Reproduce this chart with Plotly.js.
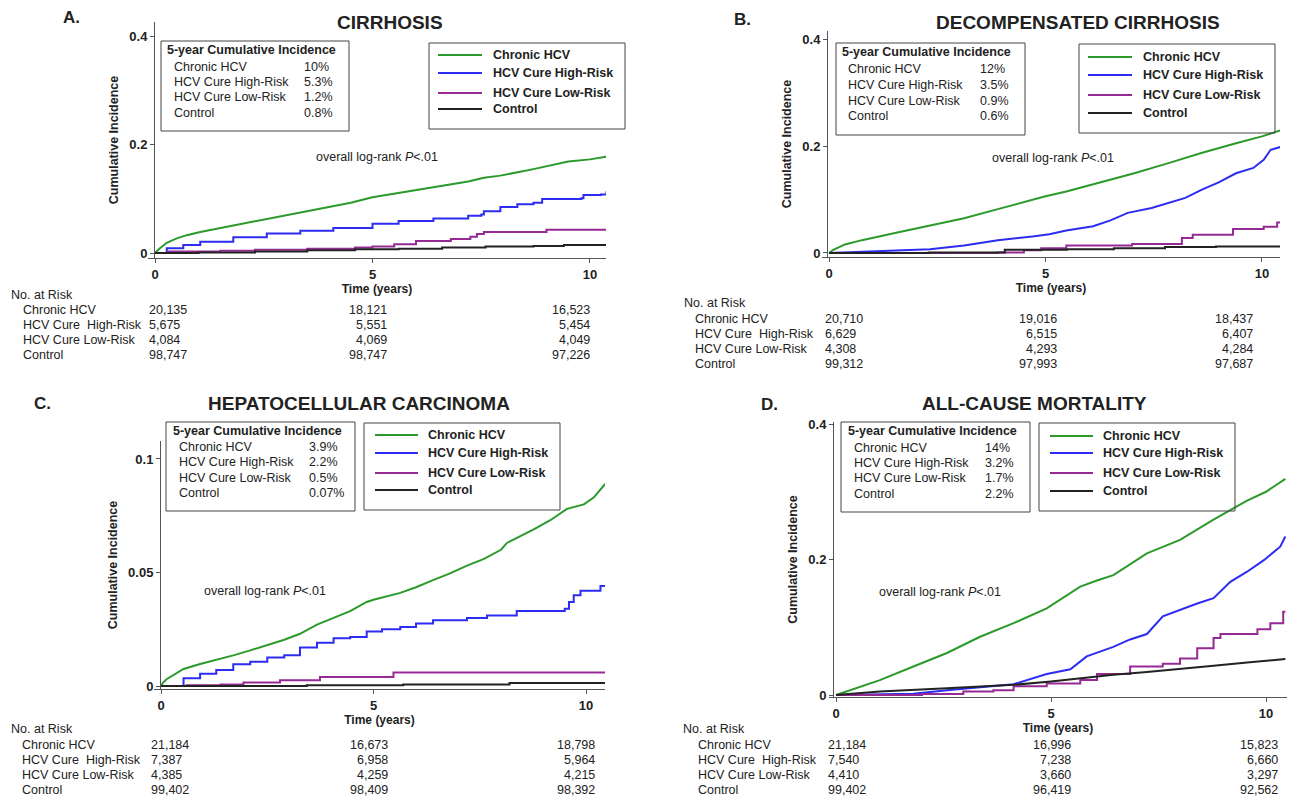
<!DOCTYPE html>
<html><head><meta charset="utf-8">
<script src="https://cdn.plot.ly/plotly-3.0.1.min.js"></script>
<style>html,body{margin:0;padding:0;background:#fff;overflow:hidden}#chart{width:1293px;height:797px}</style>
</head><body><div id="chart"></div>
<script>
// ---------------- DATA ----------------
const seriesNames = ['Chronic HCV', 'HCV Cure High-Risk', 'HCV Cure Low-Risk', 'Control'];
const riskRowLabels = ['Chronic HCV', 'HCV Cure\u00a0 High-Risk', 'HCV Cure Low-Risk', 'Control'];
const xTickVals = [0, 5, 10];
const xTickText = ['0', '5', '10'];
const panelTitles = ['CIRRHOSIS', 'DECOMPENSATED CIRRHOSIS', 'HEPATOCELLULAR CARCINOMA', 'ALL-CAUSE MORTALITY'];
const panelLetters = ['A.', 'B.', 'C.', 'D.'];
const yTickValsAB = [0, 0.2, 0.4];
const yTickTextAB = ['0', '0.2', '0.4'];
const yTickValsC = [0, 0.05, 0.1];
const yTickTextC = ['0', '0.05', '0.1'];

// 5-year cumulative incidence (inset boxes)
const incA = ['10%', '5.3%', '1.2%', '0.8%'];
const incB = ['12%', '3.5%', '0.9%', '0.6%'];
const incC = ['3.9%', '2.2%', '0.5%', '0.07%'];
const incD = ['14%', '3.2%', '1.7%', '2.2%'];

// Number at risk (rows: Chronic, High-Risk, Low-Risk, Control) at years 0, 5, 10
const riskA0 = [20135, 5675, 4084, 98747], riskA5 = [18121, 5551, 4069, 98747], riskA10 = [16523, 5454, 4049, 97226];
const riskB0 = [20710, 6629, 4308, 99312], riskB5 = [19016, 6515, 4293, 97993], riskB10 = [18437, 6407, 4284, 97687];
const riskC0 = [21184, 7387, 4385, 99402], riskC5 = [16673, 6958, 4259, 98409], riskC10 = [18798, 5964, 4215, 98392];
const riskD0 = [21184, 7540, 4410, 99402], riskD5 = [16996, 7238, 3660, 96419], riskD10 = [15823, 6660, 3297, 92562];

// Panel A: cirrhosis
const aChronicT = [0, 0.1, 0.27, 0.5, 0.73, 1.04, 1.8, 2.57, 3.34, 4.1, 4.5, 5.0, 5.6, 6.4, 7.2, 7.56, 7.94, 8.7, 9.5, 10.0, 10.38];
const aChronicV = [0, 0.008, 0.019, 0.027, 0.033, 0.039, 0.051, 0.063, 0.076, 0.088, 0.093, 0.103, 0.111, 0.122, 0.132, 0.139, 0.143, 0.155, 0.169, 0.173, 0.178];
const aHighT = [0, 0.27, 0.65, 1.04, 1.8, 2.57, 3.34, 4.1, 5.0, 5.6, 6.4, 7.2, 7.5, 7.56, 7.94, 8.33, 8.7, 8.9, 9.8, 9.85, 10.25, 10.38];
const aHighV = [0, 0.009, 0.015, 0.021, 0.029, 0.036, 0.041, 0.046, 0.054, 0.059, 0.064, 0.069, 0.071, 0.077, 0.085, 0.090, 0.093, 0.100, 0.101, 0.107, 0.108, 0.114];
const aLowT = [0, 0.3, 1.5, 2.3, 3.5, 4.6, 5.0, 5.5, 6.0, 6.8, 7.25, 7.4, 7.56, 9.0, 10.38];
const aLowV = [0, 0.003, 0.004, 0.006, 0.008, 0.010, 0.012, 0.016, 0.022, 0.026, 0.030, 0.035, 0.039, 0.043, 0.043];
const aCtrlT = [0, 1.0, 2.3, 3.5, 4.6, 5.6, 6.6, 7.6, 8.7, 9.4, 10.38];
const aCtrlV = [0, 0.001, 0.003, 0.005, 0.007, 0.008, 0.010, 0.012, 0.013, 0.015, 0.016];

// Panel B: decompensated cirrhosis
const bChronicT = [0, 0.1, 0.37, 0.76, 1.55, 2.33, 3.12, 3.9, 5.0, 5.48, 6.27, 7.05, 7.84, 8.6, 9.4, 10.0, 10.42];
const bChronicV = [0, 0.006, 0.016, 0.024, 0.038, 0.051, 0.065, 0.082, 0.106, 0.115, 0.132, 0.149, 0.168, 0.187, 0.205, 0.218, 0.229];
const bHighT = [0, 1.55, 2.33, 3.12, 3.9, 4.7, 5.09, 5.48, 6.1, 6.5, 6.9, 7.45, 7.84, 8.23, 8.6, 9.0, 9.4, 9.8, 10.04, 10.2, 10.42];
const bHighV = [0, 0.004, 0.007, 0.014, 0.024, 0.031, 0.035, 0.042, 0.050, 0.061, 0.075, 0.084, 0.093, 0.103, 0.118, 0.132, 0.149, 0.159, 0.174, 0.193, 0.198];
const bLowT = [0, 3.9, 4.5, 4.9, 5.48, 7.0, 8.15, 8.4, 9.33, 10.04, 10.35, 10.42];
const bLowV = [0, 0.001, 0.005, 0.009, 0.014, 0.017, 0.028, 0.034, 0.045, 0.049, 0.057, 0.057];
const bCtrlT = [0, 2.3, 4.06, 5.5, 6.58, 7.76, 8.94, 10.42];
const bCtrlV = [0, 0.001, 0.006, 0.007, 0.009, 0.011, 0.012, 0.014];

// Panel C: hepatocellular carcinoma
const cChronicT = [0, 0.05, 0.13, 0.53, 0.92, 1.3, 1.7, 2.1, 2.5, 2.9, 3.27, 3.67, 4.06, 4.45, 4.84, 5.0, 5.63, 6.0, 6.4, 6.8, 7.2, 7.6, 8.0, 8.14, 8.77, 9.16, 9.55, 9.95, 10.18, 10.45];
const cChronicV = [0, 0.0015, 0.003, 0.0075, 0.0097, 0.0115, 0.0135, 0.0157, 0.018, 0.0204, 0.023, 0.027, 0.030, 0.033, 0.037, 0.038, 0.041, 0.0435, 0.0466, 0.0496, 0.053, 0.056, 0.060, 0.063, 0.069, 0.073, 0.078, 0.080, 0.083, 0.089];
const cHighT = [0, 0.53, 0.92, 1.3, 1.7, 2.1, 2.5, 2.9, 3.27, 3.67, 4.06, 4.45, 4.84, 5.2, 5.63, 6.0, 6.4, 7.2, 7.67, 8.37, 9.5, 9.6, 9.71, 9.87, 10.3, 10.34, 10.45];
const cHighV = [0, 0.0034, 0.0054, 0.007, 0.0096, 0.0107, 0.0125, 0.0135, 0.017, 0.019, 0.021, 0.0216, 0.024, 0.025, 0.026, 0.0275, 0.029, 0.030, 0.031, 0.033, 0.034, 0.037, 0.040, 0.042, 0.042, 0.044, 0.044];
const cLowT = [0, 0.6, 1.4, 1.94, 2.8, 3.74, 5.47, 10.45];
const cLowV = [0, 0.0003, 0.0007, 0.0015, 0.0025, 0.004, 0.006, 0.006];
const cCtrlT = [0, 3.43, 5.7, 8.2, 10.45];
const cCtrlV = [0, 0.0003, 0.0007, 0.0013, 0.0013];

// Panel D: all-cause mortality
const dChronicT = [0, 0.64, 1.02, 1.8, 2.58, 3.35, 4.13, 4.9, 5.68, 6.07, 6.45, 7.23, 8.0, 8.78, 9.56, 10.0, 10.45];
const dChronicV = [0, 0.014, 0.022, 0.042, 0.062, 0.086, 0.106, 0.128, 0.160, 0.169, 0.177, 0.209, 0.229, 0.259, 0.287, 0.300, 0.319];
const dHighT = [0, 1.8, 2.58, 3.35, 4.13, 4.9, 5.45, 5.83, 6.45, 6.84, 7.23, 7.6, 8.0, 8.4, 8.78, 9.17, 9.56, 9.95, 10.33, 10.45];
const dHighV = [0, 0.002, 0.007, 0.011, 0.016, 0.031, 0.038, 0.057, 0.071, 0.082, 0.090, 0.116, 0.126, 0.135, 0.143, 0.167, 0.182, 0.199, 0.219, 0.234];
const dLowT = [0, 2.0, 2.96, 3.66, 4.13, 4.9, 5.68, 6.07, 6.84, 7.6, 8.0, 8.4, 8.78, 8.94, 9.8, 10.1, 10.4, 10.45];
const dLowV = [0, 0.0015, 0.005, 0.007, 0.013, 0.017, 0.022, 0.031, 0.042, 0.046, 0.054, 0.069, 0.084, 0.090, 0.097, 0.106, 0.123, 0.123];
const dCtrlT = [0, 1.02, 2.58, 4.13, 5.0, 5.68, 6.45, 7.23, 8.0, 8.78, 9.56, 10.45];
const dCtrlV = [0, 0.005, 0.010, 0.015, 0.020, 0.025, 0.030, 0.034, 0.038, 0.043, 0.048, 0.053];

// ---------------- STYLE / LAYOUT ----------------
const W = 1293, H = 797;
const FONT = 'Liberation Sans, Arial, Helvetica, sans-serif';
const TXT = '#222';
const colors = ['#2b9a2b', '#2c2cf2', '#952a95', '#222222'];
const X = p => p / W, Y = p => 1 - p / H;

const panels = [
  { key: '', series: [[aChronicT, aChronicV, 'linear'], [aHighT, aHighV, 'hv'], [aLowT, aLowV, 'hv'], [aCtrlT, aCtrlV, 'hv']],
    xd: [148, 606], yd: [22, 258], xr: [-0.161, 10.368], yr: [-0.0092, 0.4268], yPos: 154, yt: [yTickValsAB, yTickTextAB],
    title: [390, 22], letter: [71, 18], inc: incA,
    inset: { box: [161, 41, 349, 131], hx: 166, hy: 50, rx: 173, vx: 303, rows: [67, 82, 97, 113] },
    leg: { box: [429, 43, 625, 129], l0: 438, l1: 482, tx: 492, rows: [55, 73, 93, 109] },
    logrank: [377, 157],
    table: { nx: 10, ny: 295, lx: 22, c1: 148, c2: 388, c3: 591, rows: [310, 325, 340, 355], r: [riskA0, riskA5, riskA10] } },
  { key: '2', series: [[bChronicT, bChronicV, 'linear'], [bHighT, bHighV, 'linear'], [bLowT, bLowV, 'hv'], [bCtrlT, bCtrlV, 'hv']],
    xd: [822, 1280], yd: [31, 257], xr: [-0.162, 10.416], yr: [-0.0075, 0.415], yPos: 827, yt: [yTickValsAB, yTickTextAB],
    title: [1078, 23], letter: [742, 19], inc: incB,
    inset: { box: [836, 43, 1025, 135], hx: 841, hy: 52, rx: 847, vx: 979, rows: [69, 85, 101, 116] },
    leg: { box: [1079, 44, 1275, 133], l0: 1088, l1: 1132, tx: 1142, rows: [57, 75, 95, 113] },
    logrank: [1053, 158],
    table: { nx: 683, ny: 303, lx: 694, c1: 824, c2: 1058, c3: 1254, rows: [319, 334, 349, 364], r: [riskB0, riskB5, riskB10] } },
  { key: '3', series: [[cChronicT, cChronicV, 'linear'], [cHighT, cHighV, 'hv'], [cLowT, cLowV, 'hv'], [cCtrlT, cCtrlV, 'hv']],
    xd: [154, 605], yd: [441, 689], xr: [-0.165, 10.447], yr: [-0.00132, 0.1079], yPos: 160, yt: [yTickValsC, yTickTextC],
    title: [359, 403], letter: [42, 403], inc: incC,
    inset: { box: [166, 422, 355, 511], hx: 172, hy: 431, rx: 178, vx: 308, rows: [447, 462, 478, 493] },
    leg: { box: [364, 423, 560, 510], l0: 375, l1: 418, tx: 427, rows: [435, 453, 473, 490] },
    logrank: [265, 591],
    table: { nx: 10, ny: 729, lx: 21, c1: 150, c2: 389, c3: 596, rows: [745, 760, 775, 790], r: [riskC0, riskC5, riskC10] } },
  { key: '4', series: [[dChronicT, dChronicV, 'linear'], [dHighT, dHighV, 'linear'], [dLowT, dLowV, 'hv'], [dCtrlT, dCtrlV, 'linear']],
    xd: [829, 1287], yd: [422, 697], xr: [-0.163, 10.488], yr: [-0.00295, 0.403], yPos: 833, yt: [yTickValsAB, yTickTextAB],
    title: [1034, 403], letter: [769, 404], inc: incD,
    inset: { box: [841, 422, 1030, 512], hx: 847, hy: 431, rx: 853, vx: 984, rows: [448, 463, 478, 494] },
    leg: { box: [1039, 423, 1235, 511], l0: 1050, l1: 1093, tx: 1102, rows: [436, 453, 473, 491] },
    logrank: [940, 592],
    table: { nx: 682, ny: 729, lx: 697, c1: 827, c2: 1072, c3: 1279, rows: [745, 760, 775, 790], r: [riskD0, riskD5, riskD10] } }
];

const fmt = n => n.toLocaleString('en-US');
function ann(text, x, y, size, opts = {}) {
  return { text, x: X(x), y: Y(y), xref: 'paper', yref: 'paper', showarrow: false,
    xanchor: opts.xa || 'left', yanchor: 'middle', borderpad: 0,
    font: { family: FONT, size, color: opts.color || TXT, weight: opts.bold ? 'bold' : 'normal' } };
}

const traces = [], annotations = [], shapes = [];
const layout = { width: W, height: H, autosize: false, margin: { l: 0, r: 0, t: 0, b: 0 },
  paper_bgcolor: '#fff', plot_bgcolor: 'rgba(0,0,0,0)', showlegend: false, font: { family: FONT, color: TXT } };

panels.forEach((p, pi) => {
  const xa = 'x' + p.key, ya = 'y' + p.key;
  p.series.forEach((s, si) => {
    traces.push({ type: 'scatter', mode: 'lines', x: s[0], y: s[1], name: seriesNames[si], xaxis: xa, yaxis: ya,
      line: { color: colors[si], width: 2, shape: s[2] }, hoverinfo: 'x+y+name' });
  });
  layout['xaxis' + p.key] = { domain: [X(p.xd[0]), X(p.xd[1])], range: p.xr, anchor: ya, showgrid: false, zeroline: false,
    showline: true, linecolor: '#555', linewidth: 1, ticks: 'outside', ticklen: 4, tickcolor: '#555',
    tickvals: xTickVals, ticktext: xTickText, tickfont: { family: FONT, size: 13, weight: 'bold', color: TXT },
    title: { text: 'Time (years)', font: { family: FONT, size: 12, weight: 'bold', color: TXT }, standoff: 4 } };
  layout['yaxis' + p.key] = { domain: [Y(p.yd[1]), Y(p.yd[0])], range: p.yr, anchor: 'free', position: X(p.yPos),
    showgrid: false, zeroline: false, showline: true, linecolor: '#555', linewidth: 1, ticks: 'outside', ticklen: 4, tickcolor: '#555',
    tickvals: p.yt[0], ticktext: p.yt[1], tickfont: { family: FONT, size: 13, weight: 'bold', color: TXT },
    title: { text: 'Cumulative Incidence', font: { family: FONT, size: 12.5, weight: 'bold', color: TXT }, standoff: 6 } };

  annotations.push(ann(panelTitles[pi], p.title[0], p.title[1], 19, { xa: 'center', bold: true }));
  annotations.push(ann(panelLetters[pi], p.letter[0], p.letter[1], 17, { xa: 'center', bold: true }));

  // inset: 5-year cumulative incidence
  const ib = p.inset.box;
  shapes.push({ type: 'rect', xref: 'paper', yref: 'paper', x0: X(ib[0]), x1: X(ib[2]), y0: Y(ib[1]), y1: Y(ib[3]),
    line: { color: '#444', width: 1 }, fillcolor: 'rgba(255,255,255,0)' });
  annotations.push(ann('5-year Cumulative Incidence', p.inset.hx, p.inset.hy, 12.5, { bold: true }));
  p.inset.rows.forEach((ry, i) => {
    annotations.push(ann(seriesNames[i], p.inset.rx, ry, 12.5));
    annotations.push(ann(p.inc[i], p.inset.vx, ry, 12.5));
  });

  // legend
  const lb = p.leg.box;
  shapes.push({ type: 'rect', xref: 'paper', yref: 'paper', x0: X(lb[0]), x1: X(lb[2]), y0: Y(lb[1]), y1: Y(lb[3]),
    line: { color: '#444', width: 1 }, fillcolor: 'rgba(255,255,255,0)' });
  p.leg.rows.forEach((ry, i) => {
    shapes.push({ type: 'line', xref: 'paper', yref: 'paper', x0: X(p.leg.l0), x1: X(p.leg.l1), y0: Y(ry), y1: Y(ry),
      line: { color: colors[i], width: 2 } });
    annotations.push(ann(seriesNames[i], p.leg.tx, ry, 12.5, { bold: true }));
  });

  annotations.push(ann('overall log-rank <i>P</i><.01', p.logrank[0], p.logrank[1], 12.5, { xa: 'center' }));

  // number at risk table
  const t = p.table;
  annotations.push(ann('No. at Risk', t.nx, t.ny, 12.5));
  t.rows.forEach((ry, i) => {
    annotations.push(ann(riskRowLabels[i], t.lx, ry, 12.5));
    annotations.push(ann(fmt(t.r[0][i]), t.c1, ry, 12.5));
    annotations.push(ann(fmt(t.r[1][i]), t.c2, ry, 12.5, { xa: 'right' }));
    annotations.push(ann(fmt(t.r[2][i]), t.c3, ry, 12.5, { xa: 'right' }));
  });
});
layout.annotations = annotations;
layout.shapes = shapes;
Plotly.newPlot('chart', traces, layout, { displayModeBar: false, staticPlot: true });
</script></body></html>
